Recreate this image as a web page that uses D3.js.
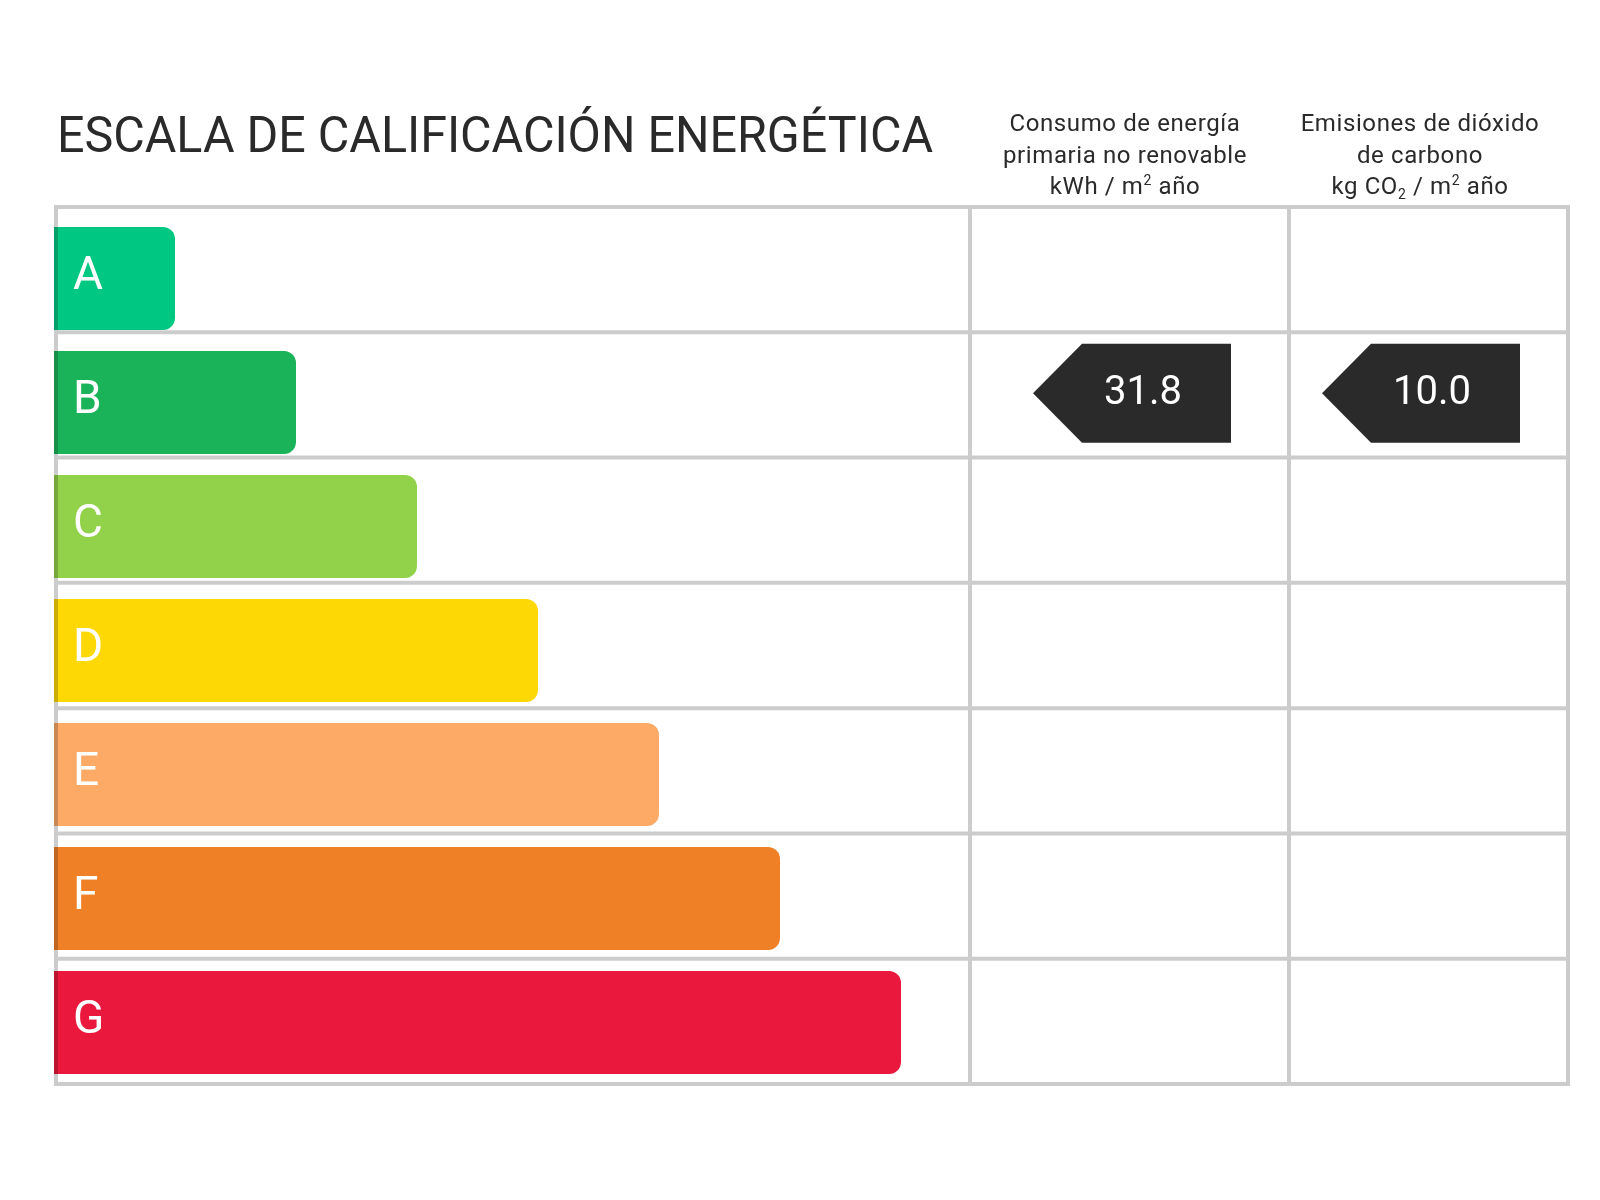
<!DOCTYPE html>
<html lang="es">
<head>
<meta charset="utf-8">
<title>Escala de calificación energética</title>
<script src="https://cdn.jsdelivr.net/npm/d3@7.9.0/dist/d3.min.js"></script>
<style>
  body { margin: 0; background: #fff; }
  svg { display: block; font-family: Roboto, 'Noto Sans', sans-serif; }
</style>
</head>
<body>
<svg id="chart" width="1600" height="1200"></svg>
<script>
// rating classes, top to bottom
const ratings = ['A', 'B', 'C', 'D', 'E', 'F', 'G'];
const barColors = ['#00c882', '#1bb35a', '#92d14a', '#fed805', '#fdaa66', '#ef8026', '#e9183c'];
const barLengths = [1, 2, 3, 4, 5, 6, 7];

// the two result columns
const columnHeaders = [
  ['Consumo de energía', 'primaria no renovable', 'kWh / m^2 año'],
  ['Emisiones de dióxido', 'de carbono', 'kg CO_2 / m^2 año']
];
const indicatorRatings = ['B', 'B'];
const indicatorValues = [31.8, 10.0];

const title = 'ESCALA DE CALIFICACIÓN ENERGÉTICA';

const svg = d3.select('#chart');
const ink = '#2a2a2a';
const gridColor = '#cccccc';

// table geometry
const tableLeft = 56, tableTop = 207, tableBottom = 1084;
const colEdges = [970, 1289, 1568];

const rowY = d3.scaleBand().domain(ratings).range([tableTop, tableBottom]);
const barY = d3.scaleBand().domain(ratings).range([227, 1074]).paddingInner(0.169).paddingOuter(0);
const barX = d3.scaleLinear().domain([0, 7]).range([54, 901]);

// bars with rounded right corners only
function barPath(x0, x1, y0, h, r) {
  const p = d3.path();
  p.moveTo(x0, y0);
  p.lineTo(x1 - r, y0);
  p.arcTo(x1, y0, x1, y0 + r, r);
  p.lineTo(x1, y0 + h - r);
  p.arcTo(x1, y0 + h, x1 - r, y0 + h, r);
  p.lineTo(x0, y0 + h);
  p.closePath();
  return p.toString();
}

const bars = svg.append('g');
ratings.forEach((r, i) => {
  bars.append('path')
    .attr('d', barPath(barX(0), barX(barLengths[i]), barY(r), barY.bandwidth(), 12))
    .attr('fill', barColors[i]);
  bars.append('text')
    .attr('x', 73)
    .attr('y', barY(r) + 62)
    .attr('fill', '#fff')
    .attr('font-size', 46)
    .text(r);
});

// grid
const grid = svg.append('g').attr('stroke', gridColor).attr('stroke-width', 4);
const hLines = [...ratings.map(r => rowY(r)), tableBottom];
hLines.forEach(y => {
  grid.append('line').attr('x1', tableLeft + 2).attr('x2', colEdges[2] + 2).attr('y1', y).attr('y2', y);
});
colEdges.forEach(x => {
  grid.append('line').attr('x1', x).attr('x2', x).attr('y1', tableTop - 2).attr('y2', tableBottom + 2);
});
// left border is darkened onto the bars
svg.append('line')
  .attr('x1', tableLeft).attr('x2', tableLeft)
  .attr('y1', tableTop - 2).attr('y2', tableBottom + 2)
  .attr('stroke', gridColor).attr('stroke-width', 4)
  .style('mix-blend-mode', 'multiply');

// title
svg.append('text')
  .attr('x', 57)
  .attr('y', 152)
  .attr('fill', ink)
  .attr('font-size', 50)
  .attr('textLength', 876)
  .attr('lengthAdjust', 'spacingAndGlyphs')
  .text(title);

// column headers
const headerCenters = [1125, 1420];
columnHeaders.forEach((lines, c) => {
  const t = svg.append('text')
    .attr('text-anchor', 'middle')
    .attr('fill', ink)
    .attr('font-size', 24)
    .attr('letter-spacing', 0.6);
  lines.forEach((line, li) => {
    const parts = line.split(/(\^\d|_\d)/).filter(s => s.length);
    parts.forEach((part, pi) => {
      const ts = t.append('tspan');
      if (pi === 0) ts.attr('x', headerCenters[c]).attr('y', 131 + li * 31.5);
      if (part[0] === '^') {
        ts.attr('font-size', 14).attr('dy', -9).text(part.slice(1));
      } else if (part[0] === '_') {
        ts.attr('font-size', 14).attr('dy', 5).text(part.slice(1));
      } else {
        const prev = pi > 0 ? parts[pi - 1] : '';
        const back = prev[0] === '^' ? 9 : prev[0] === '_' ? -5 : 0;
        if (back) ts.attr('dy', back);
        ts.text(part);
      }
    });
  });
});

// indicator arrows
const fmt = d3.format('.1f');
const markerCenters = [1132, 1421];
const markerW = 198, markerHead = 49, markerH = 99;
indicatorValues.forEach((v, c) => {
  const r = indicatorRatings[c];
  const y0 = rowY(r) + 11.5;
  const xl = markerCenters[c] - markerW / 2;
  const xr = xl + markerW;
  const pts = [[xl, y0 + markerH / 2], [xl + markerHead, y0], [xr, y0], [xr, y0 + markerH], [xl + markerHead, y0 + markerH]];
  svg.append('path')
    .attr('d', d3.line()(pts) + 'Z')
    .attr('fill', ink);
  svg.append('text')
    .attr('x', xl + 110)
    .attr('y', y0 + markerH / 2 + 10.5)
    .attr('text-anchor', 'middle')
    .attr('fill', '#fff')
    .attr('font-size', 40)
    .text(fmt(v));
});
</script>
</body>
</html>
